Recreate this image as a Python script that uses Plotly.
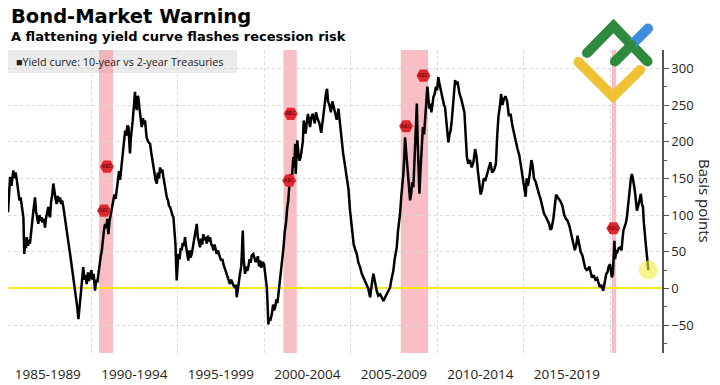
import plotly.graph_objects as go

# ---------------- data ----------------
years = [
    1985.20, 1985.26, 1985.32, 1985.40, 1985.51, 1985.58, 1985.64, 1985.71, 1985.79, 1985.86,
    1985.93, 1985.99, 1986.05, 1986.09, 1986.14, 1986.19, 1986.24, 1986.28, 1986.36, 1986.42,
    1986.47, 1986.52, 1986.57, 1986.64, 1986.70, 1986.76, 1986.82, 1986.88, 1986.95, 1987.02,
    1987.08, 1987.14, 1987.20, 1987.27, 1987.34, 1987.40, 1987.47, 1987.53, 1987.58, 1987.63,
    1987.69, 1987.76, 1987.82, 1987.88, 1987.95, 1988.01, 1988.08, 1988.14, 1988.21, 1988.27,
    1988.33, 1988.40, 1988.47, 1988.53, 1988.60, 1988.66, 1988.72, 1988.79, 1988.86, 1988.92,
    1988.98, 1989.05, 1989.13, 1989.20, 1989.27, 1989.32, 1989.36, 1989.42, 1989.48, 1989.55,
    1989.62, 1989.68, 1989.75, 1989.82, 1989.88, 1989.94, 1990.02, 1990.08, 1990.15, 1990.23,
    1990.30, 1990.36, 1990.42, 1990.50, 1990.56, 1990.62, 1990.68, 1990.75, 1990.81, 1990.88,
    1990.94, 1991.00, 1991.07, 1991.13, 1991.20, 1991.28, 1991.35, 1991.42, 1991.49, 1991.56,
    1991.62, 1991.68, 1991.75, 1991.81, 1991.87, 1991.93, 1991.97, 1992.03, 1992.10, 1992.16,
    1992.21, 1992.25, 1992.30, 1992.36, 1992.41, 1992.48, 1992.54, 1992.59, 1992.64, 1992.69,
    1992.73, 1992.80, 1992.86, 1992.93, 1993.00, 1993.06, 1993.12, 1993.17, 1993.21, 1993.30,
    1993.41, 1993.48, 1993.54, 1993.60, 1993.67, 1993.73, 1993.80, 1993.86, 1993.93, 1993.99,
    1994.05, 1994.12, 1994.18, 1994.25, 1994.32, 1994.38, 1994.45, 1994.51, 1994.57, 1994.64,
    1994.70, 1994.76, 1994.82, 1994.88, 1994.91, 1994.95, 1995.00, 1995.05, 1995.12, 1995.18,
    1995.24, 1995.30, 1995.37, 1995.43, 1995.50, 1995.56, 1995.62, 1995.69, 1995.75, 1995.82,
    1995.88, 1995.94, 1996.02, 1996.07, 1996.11, 1996.17, 1996.24, 1996.30, 1996.36, 1996.43,
    1996.49, 1996.56, 1996.62, 1996.69, 1996.75, 1996.82, 1996.88, 1996.95, 1997.01, 1997.07,
    1997.14, 1997.20, 1997.26, 1997.33, 1997.40, 1997.46, 1997.52, 1997.59, 1997.65, 1997.72,
    1997.78, 1997.84, 1997.91, 1997.97, 1998.03, 1998.10, 1998.16, 1998.23, 1998.32, 1998.38,
    1998.42, 1998.48, 1998.55, 1998.61, 1998.68, 1998.72, 1998.77, 1998.82, 1998.86, 1998.90,
    1998.97, 1999.03, 1999.09, 1999.16, 1999.22, 1999.29, 1999.38, 1999.45, 1999.51, 1999.58,
    1999.64, 1999.71, 1999.77, 1999.84, 1999.90, 2000.00, 2000.06, 2000.12, 2000.16, 2000.20,
    2000.25, 2000.30, 2000.36, 2000.45, 2000.52, 2000.58, 2000.64, 2000.71, 2000.77, 2000.83,
    2000.92, 2000.98, 2001.05, 2001.12, 2001.20, 2001.27, 2001.34, 2001.40, 2001.46, 2001.52,
    2001.58, 2001.64, 2001.69, 2001.74, 2001.80, 2001.83, 2001.86, 2001.92, 2001.98, 2002.05,
    2002.12, 2002.18, 2002.24, 2002.29, 2002.35, 2002.40, 2002.46, 2002.54, 2002.60, 2002.66,
    2002.72, 2002.81, 2002.88, 2002.93, 2003.00, 2003.08, 2003.20, 2003.30, 2003.40, 2003.50,
    2003.58, 2003.64, 2003.70, 2003.78, 2003.86, 2003.95, 2004.02, 2004.10, 2004.20, 2004.30,
    2004.40, 2004.50, 2004.57, 2004.65, 2004.72, 2004.80, 2004.88, 2004.97, 2005.05, 2005.10,
    2005.18, 2005.28, 2005.36, 2005.45, 2005.55, 2005.65, 2005.74, 2005.84, 2005.94, 2006.02,
    2006.13, 2006.20, 2006.25, 2006.32, 2006.40, 2006.46, 2006.51, 2006.60, 2006.71, 2006.80,
    2006.90, 2007.00, 2007.09, 2007.18, 2007.28, 2007.36, 2007.42, 2007.47, 2007.55, 2007.62,
    2007.67, 2007.74, 2007.80, 2007.86, 2007.93, 2008.00, 2008.05, 2008.10, 2008.15, 2008.20,
    2008.26, 2008.30, 2008.34, 2008.40, 2008.44, 2008.50, 2008.56, 2008.63, 2008.70, 2008.76,
    2008.83, 2008.88, 2008.93, 2008.98, 2009.04, 2009.11, 2009.18, 2009.25, 2009.31, 2009.38,
    2009.44, 2009.50, 2009.55, 2009.60, 2009.67, 2009.73, 2009.79, 2009.86, 2009.93, 2010.00,
    2010.07, 2010.13, 2010.20, 2010.27, 2010.34, 2010.40, 2010.46, 2010.52, 2010.58, 2010.65,
    2010.72, 2010.78, 2010.85, 2010.92, 2010.98, 2011.04, 2011.12, 2011.18, 2011.23, 2011.30,
    2011.40, 2011.50, 2011.58, 2011.65, 2011.72, 2011.80, 2011.90, 2012.00, 2012.10, 2012.20,
    2012.28, 2012.36, 2012.45, 2012.52, 2012.60, 2012.70, 2012.80, 2012.90, 2013.00, 2013.08,
    2013.18, 2013.30, 2013.40, 2013.48, 2013.55, 2013.64, 2013.70, 2013.78, 2013.86, 2013.95,
    2014.05, 2014.15, 2014.25, 2014.35, 2014.45, 2014.55, 2014.65, 2014.75, 2014.85, 2014.95,
    2015.05, 2015.12, 2015.18, 2015.25, 2015.35, 2015.45, 2015.52, 2015.60, 2015.70, 2015.80,
    2015.90, 2015.98, 2016.08, 2016.18, 2016.28, 2016.38, 2016.48, 2016.55, 2016.62, 2016.72,
    2016.80, 2016.88, 2016.95, 2017.05, 2017.15, 2017.25, 2017.35, 2017.45, 2017.55, 2017.65,
    2017.72, 2017.80, 2017.88, 2017.96, 2018.05, 2018.12, 2018.20, 2018.30, 2018.40, 2018.48,
    2018.56, 2018.65, 2018.72, 2018.80, 2018.88, 2018.95, 2019.05, 2019.15, 2019.25, 2019.32,
    2019.40, 2019.48, 2019.55, 2019.60, 2019.65, 2019.72, 2019.78, 2019.85, 2019.92, 2020.00,
    2020.05, 2020.10, 2020.16, 2020.20, 2020.25, 2020.29, 2020.35, 2020.42, 2020.50, 2020.58,
    2020.66, 2020.72, 2020.77, 2020.85, 2020.92, 2020.97, 2021.04, 2021.10, 2021.15, 2021.20,
    2021.26, 2021.30, 2021.35, 2021.40, 2021.45, 2021.50, 2021.55, 2021.60, 2021.64, 2021.70,
    2021.78, 2021.84, 2021.90, 2021.95, 2021.97, 2022.02, 2022.08, 2022.14, 2022.21,
]
spread_bp = [
    104, 135, 152, 140, 161, 150, 158, 148, 133, 120,
    124, 111, 100, 97, 47, 62, 55, 70, 58, 66,
    61, 75, 88, 100, 112, 124, 105, 96, 88, 100,
    92, 97, 90, 95, 83, 96, 104, 111, 100, 97,
    118, 128, 143, 130, 122, 115, 126, 118, 124, 115,
    120, 111, 98, 86, 74, 66, 58, 47, 35, 24,
    15, 5, -12, -25, -42, -30, -21, -5, 10, 29,
    12, 18, 6, 22, 10, 15, 25, 12, 20, -3,
    12, 8, 20, 35, 44, 51, 68, 80, 88, 82,
    95, 74, 92, 100, 106, 118, 128, 122, 138, 150,
    160, 148, 165, 175, 184, 200, 215, 208, 222, 220,
    200, 184, 205, 215, 229, 250, 268, 252, 243, 262,
    261, 245, 232, 220, 232, 224, 229, 214, 206, 200,
    197, 185, 175, 165, 152, 148, 143, 158, 150, 165,
    158, 162, 152, 140, 135, 124, 120, 112, 111, 104,
    100, 97, 82, 60, 38, 11, 30, 47, 40, 55,
    52, 62, 58, 70, 56, 48, 38, 52, 42, 47,
    55, 68, 75, 82, 88, 70, 62, 56, 68, 60,
    74, 66, 70, 61, 72, 64, 70, 60, 58, 52,
    60, 50, 47, 52, 45, 42, 38, 40, 33, 28,
    25, 20, 15, 10, 6, 12, 8, 4, 1, 5,
    -12, 2, 10, 20, 30, 50, 79, 40, 28, 20,
    30, 24, 29, 40, 35, 45, 47, 42, 36, 38,
    44, 30, 38, 28, 36, 33, 20, 8, 1, -20,
    -49, -40, -44, -35, -22, -30, -26, -15, -20, -8,
    11, 22, 35, 55, 78, 90, 110, 120, 140, 156,
    140, 168, 179, 165, 197, 156, 175, 202, 185, 174,
    180, 188, 200, 229, 215, 211, 225, 238, 228, 220,
    232, 238, 230, 225, 240, 232, 225, 212, 230, 252,
    266, 272, 255, 250, 240, 255, 248, 238, 230, 245,
    220, 200, 184, 172, 160, 152, 135, 106, 90, 74,
    60, 52, 47, 35, 29, 20, 15, 10, 6, 0,
    -12, 5, 10, 20, 8, 2, -3, -10, -8, -12,
    -17, -12, -8, -4, 1, 12, 18, 24, 40, 50,
    56, 78, 90, 102, 125, 140, 156, 178, 206, 190,
    170, 160, 152, 130, 120, 128, 145, 138, 175, 215,
    252, 200, 150, 129, 160, 197, 220, 210, 238, 255,
    275, 260, 245, 252, 240, 250, 261, 265, 275, 270,
    288, 280, 272, 266, 255, 250, 247, 230, 215, 199,
    210, 215, 229, 250, 270, 284, 278, 282, 275, 265,
    258, 248, 240, 210, 180, 170, 175, 165, 172, 190,
    180, 160, 145, 128, 135, 150, 148, 155, 165, 172,
    158, 162, 170, 210, 235, 250, 265, 250, 258, 262,
    255, 235, 238, 222, 210, 200, 190, 182, 165, 150,
    135, 125, 150, 140, 155, 175, 168, 150, 145, 135,
    128, 122, 110, 102, 98, 92, 88, 80, 82, 95,
    110, 128, 125, 122, 118, 112, 100, 95, 92, 85,
    78, 70, 62, 52, 60, 72, 62, 50, 45, 35,
    28, 25, 26, 30, 20, 15, 18, 12, 14, 8,
    2, 5, 0, -3, 3, 15, 20, 22, 30, 33,
    25, 15, 20, 55, 65, 40, 52, 50, 55, 56,
    52, 68, 79, 85, 90, 97, 110, 125, 138, 150,
    156, 152, 147, 138, 129, 118, 106, 110, 115, 120,
    129, 115, 111, 90, 83, 75, 56, 42, 25,
]

recession_start = [1990.46, 2001.12, 2007.90, 2020.10]
recession_end = [1991.27, 2001.89, 2009.48, 2020.35]

rec_marker_years = [1990.75, 1990.92, 2001.45, 2001.54, 2008.21, 2009.21, 2020.19]
rec_marker_bp = [106, 166, 147, 238, 221, 290, 82]

x_tick_centers = [1987.5, 1992.5, 1997.5, 2002.5, 2007.5, 2012.5, 2017.5]
x_tick_labels = ["1985-1989", "1990-1994", "1995-1999", "2000-2004",
                 "2005-2009", "2010-2014", "2015-2019"]
x_grid_years = [1990, 1995, 2000, 2005, 2010, 2015, 2020]
y_ticks = [-50, 0, 50, 100, 150, 200, 250, 300]
y_minor = [-75, -25, 25, 75, 125, 175, 225, 275]

# ---------------- layout geometry ----------------
W, H = 720, 385
ML, MR, MT, MB = 8, 58, 50, 32
PW, PH = W - ML - MR, H - MT - MB


def px(x):
    return (x - ML) / PW


def py(y):
    return (H - MB - y) / PH


FONT = "Open Sans"

fig = go.Figure()

fig.add_trace(go.Scatter(
    x=years, y=spread_bp, mode="lines",
    line=dict(color="#000000", width=2.5),
    hoverinfo="skip", showlegend=False,
))

# highlighted latest reading
fig.add_trace(go.Scatter(
    x=[years[-1]], y=[spread_bp[-1]], mode="markers",
    marker=dict(size=19, color="rgba(245,236,70,0.62)", line=dict(width=0)),
    hoverinfo="skip", showlegend=False, cliponaxis=False,
))

# REC event markers
fig.add_trace(go.Scatter(
    x=rec_marker_years, y=rec_marker_bp, mode="markers+text",
    marker=dict(symbol="hexagon2", size=14, color="#e2262e", line=dict(width=0)),
    text=["REC"] * len(rec_marker_years), textposition="middle center",
    textfont=dict(family="DejaVu Sans", size=5, color="#3a0000"),
    hoverinfo="skip", showlegend=False, cliponaxis=False,
))

shapes = []
# legend background box
shapes.append(dict(type="rect", xref="paper", yref="paper",
                   x0=px(8), x1=px(237), y0=py(73), y1=py(50),
                   fillcolor="#ebebeb", line=dict(width=0), layer="below"))
# recession bands
for s, e in zip(recession_start, recession_end):
    shapes.append(dict(type="rect", xref="x", yref="paper", x0=s, x1=e, y0=0, y1=1,
                       fillcolor="rgba(240,120,130,0.48)", line=dict(width=0), layer="below"))


# decorative logo (top right)
def stroke(points, color, w=10):
    path = "M " + " L ".join(f"{px(a):.5f},{py(b):.5f}" for a, b in points)
    out = [dict(type="path", xref="paper", yref="paper", path=path,
                line=dict(color=color, width=w), layer="above")]
    for a, b in (points[0], points[-1]):
        out.append(dict(type="circle", xref="paper", yref="paper",
                        xsizemode="pixel", ysizemode="pixel",
                        xanchor=px(a), yanchor=py(b),
                        x0=-w / 2, x1=w / 2, y0=-w / 2, y1=w / 2,
                        fillcolor=color, line=dict(width=0), layer="above"))
    return out


YEL, GRN, BLU = "#efc234", "#2e8b3c", "#3d8fdd"
shapes += stroke([(578.5, 62), (613, 96.5), (640, 70)], YEL)
shapes += stroke([(587, 53), (613.5, 26), (647.5, 61.5)], GRN)
shapes += stroke([(631.5, 45), (648, 28.5)], BLU)
shapes += stroke([(615, 61.5), (631.5, 45)], GRN)

annotations = [
    dict(text="<b>Bond-Market Warning</b>", xref="paper", yref="paper",
         x=px(9), y=py(17), xanchor="left", yanchor="middle", showarrow=False,
         font=dict(family="DejaVu Sans", size=19.5, color="#000000")),
    dict(text="<b>A flattening yield curve flashes recession risk</b>", xref="paper", yref="paper",
         x=px(9), y=py(36.5), xanchor="left", yanchor="middle", showarrow=False,
         font=dict(family="DejaVu Sans", size=13, color="#000000")),
    dict(text="\u25a0Yield curve: 10-year vs 2-year Treasuries", xref="paper", yref="paper",
         x=px(14), y=py(61.5), xanchor="left", yanchor="middle", showarrow=False,
         font=dict(family=FONT, size=10.8, color="#222222")),
    dict(text="Basis points", xref="paper", yref="paper", textangle=90,
         x=px(705), y=py(201), xanchor="center", yanchor="middle", showarrow=False,
         font=dict(family=FONT, size=15, color="#222222")),
]

fig.update_layout(
    width=W, height=H,
    margin=dict(l=ML, r=MR, t=MT, b=MB, pad=0, autoexpand=False),
    paper_bgcolor="#ffffff", plot_bgcolor="#ffffff",
    showlegend=False,
    shapes=shapes,
    annotations=annotations,
    xaxis=dict(
        range=[1985.2, 2023.0], tickmode="array", automargin=False,
        tickvals=x_tick_centers, ticktext=x_tick_labels,
        ticks="outside", ticklen=9, tickcolor="rgba(0,0,0,0)",
        showgrid=False, zeroline=False, showline=False,
        tickfont=dict(family=FONT, size=13.5, color="#222222"),
        minor=dict(tickmode="array", tickvals=x_grid_years, showgrid=True,
                   gridcolor="#d9d9d9", griddash="dot", gridwidth=1, ticks=""),
    ),
    yaxis=dict(
        side="right", range=[-88, 325], tickmode="array", tickvals=y_ticks,
        automargin=False,
        ticks="outside", ticklen=5, tickwidth=1, tickcolor="#555555",
        showline=True, linecolor="#555555", linewidth=1.5,
        showgrid=True, gridcolor="#d9d9d9", griddash="dot", gridwidth=1,
        zeroline=True, zerolinecolor="#f3e81a", zerolinewidth=2.2,
        tickfont=dict(family=FONT, size=13, color="#222222"),
        minor=dict(tickmode="array", tickvals=y_minor, ticks="outside",
                   ticklen=3, tickcolor="#555555", showgrid=False),
    ),
)

fig.write_html(
    "out.html",
    config={"displayModeBar": False},
    post_script="document.body.style.margin='0px';document.body.style.overflow='hidden';",
)
